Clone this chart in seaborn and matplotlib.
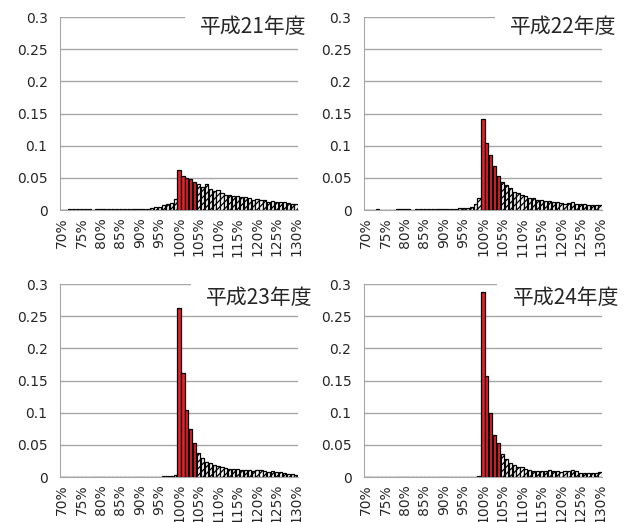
import matplotlib
matplotlib.use('Agg')
import matplotlib.pyplot as plt
from matplotlib.patches import Rectangle
import seaborn as sns
import pandas as pd

# ─── Data ────────────────────────────────────────────────────────────────────
categories = [f"{p}%" for p in range(70, 131)]
red_labels = ["100%", "101%", "102%", "103%", "104%"]

h21 = [0.0005, 0.0005, 0.001, 0.0008, 0.001, 0.001, 0.0008, 0.001, 0.0005, 0.0008,
       0.001, 0.001, 0.001, 0.0012, 0.0012, 0.0015, 0.0012, 0.0012, 0.0015, 0.0015,
       0.002, 0.002, 0.002, 0.0025, 0.004, 0.005, 0.007, 0.009, 0.011, 0.017,
       0.062, 0.0535, 0.049, 0.048, 0.043,
       0.041, 0.036, 0.040, 0.033, 0.030, 0.031, 0.027, 0.024, 0.024, 0.021, 0.021,
       0.020, 0.020, 0.018, 0.016, 0.017, 0.016, 0.015, 0.013, 0.014, 0.0125, 0.013,
       0.012, 0.011, 0.010, 0.009]
h22 = [0.0003, 0.0003, 0.0005, 0.0008, 0.0005, 0.0005, 0.0003, 0.0005, 0.0008, 0.001,
       0.001, 0.0008, 0.0005, 0.0008, 0.001, 0.001, 0.001, 0.0012, 0.0012, 0.001,
       0.0015, 0.0015, 0.002, 0.002, 0.0025, 0.0025, 0.003, 0.005, 0.010, 0.019,
       0.141, 0.1035, 0.085, 0.069, 0.053,
       0.044, 0.039, 0.034, 0.028, 0.026, 0.023, 0.021, 0.018, 0.018, 0.016, 0.015,
       0.0145, 0.0135, 0.013, 0.012, 0.011, 0.010, 0.011, 0.012, 0.010, 0.009, 0.0088,
       0.008, 0.0078, 0.0078, 0.0078]
h23 = [0.0003, 0.0003, 0.0003, 0.0003, 0.0003, 0.0003, 0.0003, 0.0003, 0.0003, 0.0003,
       0.0003, 0.0003, 0.0003, 0.0003, 0.0003, 0.0003, 0.0003, 0.0003, 0.0003, 0.0003,
       0.0003, 0.0003, 0.0003, 0.0003, 0.0005, 0.0005, 0.0008, 0.001, 0.0012, 0.003,
       0.263, 0.161, 0.104, 0.074, 0.0535,
       0.038, 0.030, 0.024, 0.022, 0.019, 0.0166, 0.015, 0.014, 0.0125, 0.012, 0.012,
       0.011, 0.011, 0.0104, 0.010, 0.0114, 0.0104, 0.0088, 0.0083, 0.0088, 0.0078,
       0.0073, 0.0057, 0.0047, 0.0042, 0.0036]
h24 = [0.0003, 0.0003, 0.0003, 0.0003, 0.0003, 0.0003, 0.0003, 0.0003, 0.0003, 0.0003,
       0.0003, 0.0003, 0.0003, 0.0003, 0.0003, 0.0003, 0.0003, 0.0003, 0.0003, 0.0003,
       0.0003, 0.0003, 0.0003, 0.0003, 0.0003, 0.0003, 0.0003, 0.0003, 0.0005, 0.001,
       0.288, 0.157, 0.099, 0.066, 0.053,
       0.036, 0.028, 0.022, 0.019, 0.016, 0.015, 0.013, 0.011, 0.0098, 0.0088, 0.0093,
       0.0098, 0.011, 0.0093, 0.0088, 0.0083, 0.0088, 0.0088, 0.0103, 0.0093, 0.0067,
       0.0062, 0.0067, 0.0067, 0.0067, 0.0072]

titles = ["平成21年度", "平成22年度", "平成23年度", "平成24年度"]
series = [h21, h22, h23, h24]
yticks = [0, 0.05, 0.1, 0.15, 0.2, 0.25, 0.3]
ytick_labels = ["0", "0.05", "0.1", "0.15", "0.2", "0.25", "0.3"]

RED = '#E8202A'
GRID = '#A6A6A6'

sns.set_style('white')
plt.rcParams['font.family'] = ['DejaVu Sans']
plt.rcParams['hatch.linewidth'] = 0.9

fig = plt.figure(figsize=(6.27, 5.22), dpi=100)

# axes rectangles (figure fraction)
positions = [
    (0.0957, 0.5977), (0.5805, 0.5977),
    (0.0957, 0.0862), (0.5805, 0.0862),
]
W, H = 0.3796, 0.3697
title_y = [0.948, 0.948, 0.927, 0.927]
box_x0 = [0.525, 0.55, 0.55, 0.56]

palette = {c: (RED if c in red_labels else 'white') for c in categories}

for i, (vals, title) in enumerate(zip(series, titles)):
    ax = fig.add_axes([positions[i][0], positions[i][1], W, H])
    df = pd.DataFrame({'cat': categories, 'val': vals})
    sns.barplot(data=df, x='cat', y='val', hue='cat', palette=palette,
                legend=False, ax=ax, width=0.82, edgecolor='black',
                linewidth=0.9, saturation=1)
    for cat, patch in zip(categories, ax.patches):
        if cat not in red_labels:
            patch.set_hatch('/////')

    ax.set_ylim(0, 0.3)
    ax.set_xlim(-0.5, len(categories) - 0.5)
    ax.set_yticks(yticks)
    ax.set_yticklabels(ytick_labels, fontsize=10)
    ax.set_xticks(range(len(categories)))
    ax.set_xticklabels([c if k % 5 == 0 else '' for k, c in enumerate(categories)],
                       rotation=90, fontsize=10)
    ax.tick_params(axis='x', length=3, color=GRID, pad=2)
    ax.tick_params(axis='y', length=0, pad=9)
    ax.set_xlabel('')
    ax.set_ylabel('')
    ax.yaxis.grid(True, color=GRID, linewidth=1)
    ax.set_axisbelow(True)
    for side in ['top', 'right']:
        ax.spines[side].set_visible(False)
    ax.spines['left'].set_color(GRID)
    ax.spines['bottom'].set_color(GRID)

    # white title box over the top gridline
    ax.add_patch(Rectangle((box_x0[i], 0.87), 0.55, 0.2, transform=ax.transAxes,
                           facecolor='white', edgecolor='none', clip_on=False,
                           zorder=5))
    ax.text(box_x0[i] + 0.065, title_y[i], title, transform=ax.transAxes,
            fontsize=15, va='center', ha='left', zorder=6,
            family=['Noto Sans CJK JP', 'DejaVu Sans'])

fig.savefig('out.png', dpi=100)
